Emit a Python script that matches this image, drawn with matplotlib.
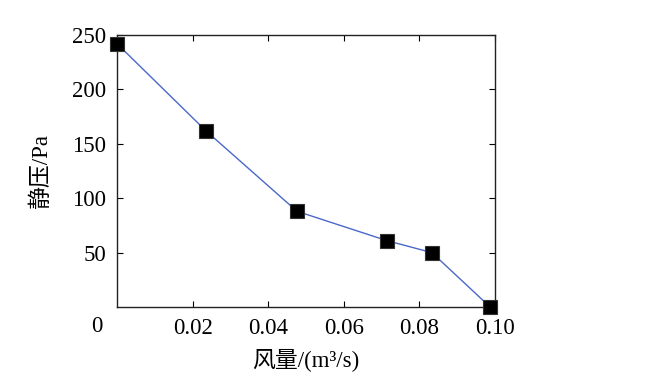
import numpy as np
import matplotlib.pyplot as plt

plt.rcParams['font.family'] = ['Liberation Serif', 'Noto Sans CJK SC']

# 风量 (m3/s) and 静压 (Pa)
flow = [0.0, 0.0235, 0.0476, 0.0714, 0.0833, 0.0987]
pressure = [242, 162, 88, 61, 50, 0]

xticks = [0.02, 0.04, 0.06, 0.08, 0.10]
xticklabels = ['0.02', '0.04', '0.06', '0.08', '0.10']
yticks = [50, 100, 150, 200, 250]

fig = plt.figure(figsize=(6.56, 3.83), dpi=100)
ax = fig.add_axes([0.1784, 0.1984, 0.5762, 0.7102])

ax.plot(flow, pressure, '-', color='#4a68c8', lw=1.0, zorder=2)
ax.plot(flow, pressure, 's', color='black', ms=9.5, mec='#333333', mew=0.8,
        zorder=3, clip_on=False)

ax.set_xlim(0, 0.1)
ax.set_ylim(0, 250)
ax.set_xticks(xticks)
ax.set_xticklabels(xticklabels)
ax.set_yticks(yticks)
ax.tick_params(direction='in', length=4, width=0.8, top=True, right=True,
               labelsize=16.5, pad=8)
for s in ax.spines.values():
    s.set_linewidth(1.0)
    s.set_color('#222222')

ax.text(-0.053, -0.07, '0', transform=ax.transAxes, fontsize=16.5,
        ha='center', va='center')

ax.set_xlabel('风量/(m³/s)', fontsize=16.5, labelpad=7)
ax.set_ylabel('静压/Pa', fontsize=16.5, labelpad=14)

fig.savefig('out.png', dpi=100)
